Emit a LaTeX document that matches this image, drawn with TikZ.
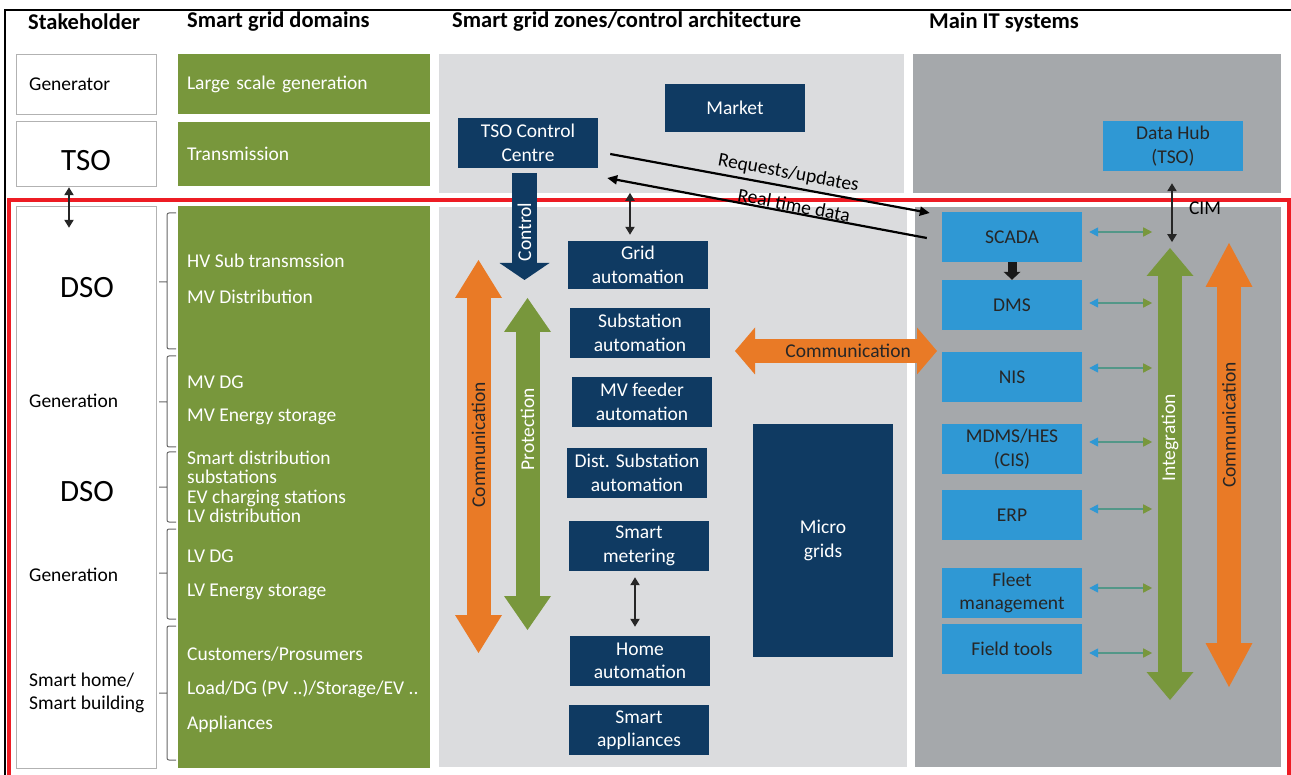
\documentclass[tikz,border=0pt]{standalone}
\usepackage{fontspec}
\setmainfont{Carlito}
\usetikzlibrary{arrows.meta, positioning, calc}
\definecolor{sgblue}{HTML}{0F3A62}
\definecolor{itblue}{HTML}{2F98D4}
\definecolor{dgreen}{HTML}{78973C}
\definecolor{sgorange}{HTML}{E97A26}
\definecolor{zonegray}{HTML}{DBDCDE}
\definecolor{itgray}{HTML}{A5A8AB}
\definecolor{framered}{HTML}{ED1C24}

\begin{document}
\begin{tikzpicture}[
  x=1pt, y=-1pt,
  font=\fontsize{19.5}{23.5}\selectfont,
  colhead/.style={font=\fontsize{22.5}{26}\selectfont\bfseries, anchor=west, inner sep=0pt},
  stake/.style={draw=black!30, fill=white, minimum width=140pt},
  stakelbl/.style={anchor=west, align=left, inner sep=0pt},
  bigname/.style={font=\fontsize{31}{36}\selectfont},
  dombox/.style={fill=dgreen, text=white, text width=234pt, inner xsep=9pt, align=left},
  domlbl/.style={anchor=west, text=white, align=left, inner sep=0pt},
  zonebox/.style={fill=sgblue, text=white, minimum width=140pt, minimum height=50pt,
                  align=center, inner sep=1pt},
  itbox/.style={fill=itblue, text=black!85, minimum width=140pt, minimum height=50pt,
                align=center, inner sep=1pt},
  fatarr/.style={line width=24pt,
                 {Triangle[length=#1, width=47pt, line width=0pt]}-{Triangle[length=#1, width=47pt, line width=0pt]}},
  dbl/.style={line width=2pt, black!85,
              {Triangle[length=8pt, width=9pt]}-{Triangle[length=8pt, width=9pt]}},
  itlink/.style={line width=1.6pt, itblue!50!dgreen,
                 {Triangle[length=9pt, width=9pt, color=itblue]}-{Triangle[length=9pt, width=9pt, color=dgreen]}},
  msgline/.style={line width=2.2pt, black}
]
  \useasboundingbox (0,0) rectangle (1291,775);

  % background panels
  \fill[zonegray] (439,54) rectangle (904,193);
  \fill[itgray] (913,54) rectangle (1281,193);
  \fill[zonegray] (439,207) rectangle (907,767);
  \fill[itgray] (915,207) rectangle (1281,767);
  \draw[line width=2.5pt] (5,10) rectangle (1320,800);
  \draw[framered, line width=4pt] (8.5,200.5) rectangle (1288.5,800);

  % column headings
  \node[colhead] (h1) at (28,22) {Stakeholder};
  \node[colhead] (h2) at (187,22) {Smart grid domains};
  \node[colhead] (h3) at (452,22) {Smart grid zones/control architecture};
  \node[colhead] (h4) at (929,22) {Main IT systems};

  % stakeholders
  \node[stake, minimum height=60pt] (gen) at (86,84) {};
  \node[stakelbl] (gentxt) at (29,84) {Generator};
  \node[stake, minimum height=65pt] (tso) at (86,153.5) {};
  \node[bigname] (tsotxt) at (86,161) {TSO};
  \node[stake, minimum height=562pt] (dsobox) at (86,487) {};
  \node[bigname] (dso1) at (87,288) {DSO};
  \node[stakelbl] (gen1) at (29,401) {Generation};
  \node[bigname] (dso2) at (87,492) {DSO};
  \node[stakelbl] (gen2) at (29,575) {Generation};
  \node[stakelbl] (homeb) at (29,693) {Smart home/\\Smart building};

  % domains
  \node[dombox, minimum height=60pt] (lsg) at (304,84) {Large scale generation};
  \node[dombox, minimum height=64pt] (trans) at (304,154) {Transmission};
  \node[fill=dgreen, minimum width=252pt, minimum height=562pt] (dist) at (304,487) {};
  \foreach \y/\t [count=\i] in {261/HV Sub transmssion, 297/MV Distribution, 382/MV DG,
      417/MV Energy storage, 556/LV DG, 592/LV Energy storage, 654/{Customers/Prosumers},
      689/{Load/DG (PV ..)/Storage/EV ..}, 724/Appliances}
    \node[domlbl] (dom\i) at (187,\y) {\t};
  \node[domlbl, font=\fontsize{19.5}{19.5}\selectfont] (domlv) at (187,487)
    {Smart distribution\\substations\\EV charging stations\\LV distribution};

  % braces
  \foreach \t/\m/\b in {213/282/349, 356/402/447, 452/487/522, 529/573/619, 626/693/760}
    \draw[black!60, line width=1pt, rounded corners=2pt]
      (176,\t) -- (167,\t) -- (167,\b) -- (176,\b) (167,\m) -- (159,\m);

  % zones
  \node[zonebox, minimum height=48pt] (market) at (735,108) {Market};
  \node[zonebox] (tsocc) at (528,143) {TSO Control\\Centre};
  \node[zonebox, minimum height=48pt] (gridauto) at (638,265) {Grid\\automation};
  \node[zonebox] (subauto) at (640,333) {Substation\\automation};
  \node[zonebox] (mvfeed) at (642,402) {MV feeder\\automation};
  \node[zonebox] (distsub) at (637,473) {Dist. Substation\\automation};
  \node[zonebox] (meter) at (639,546) {Smart\\metering};
  \node[zonebox] (homeauto) at (640,661) {Home\\automation};
  \node[zonebox] (smartapp) at (639,730) {Smart\\appliances};
  \node[zonebox, minimum height=233pt] (micro) at (823,540.5) {Micro\\grids};

  % IT systems
  \node[itbox] (datahub) at (1173,146) {Data Hub\\(TSO)};
  \node[itbox] (scada) at (1012,237) {SCADA};
  \node[itbox] (dms) at (1012,305) {DMS};
  \node[itbox] (nis) at (1012,377) {NIS};
  \node[itbox] (mdms) at (1012,449) {MDMS/HES\\(CIS)};
  \node[itbox] (erp) at (1012,515) {ERP};
  \node[itbox] (fleet) at (1012,593) {Fleet\\management};
  \node[itbox] (field) at (1012,649) {Field tools};

  % big arrows
  \coordinate (ctrltop) at (524.5,173);
  \coordinate (ctrlend) at (524.5,280);
  \draw[sgblue, line width=25pt, -{Triangle[length=17pt, width=50pt, line width=0pt]}]
    (ctrltop) -- (ctrlend) node[pos=.55, rotate=90, text=white] (ctrltxt) {Control};
  \coordinate (commtop) at (478.5,260);
  \coordinate (commbot) at (478.5,653);
  \draw[fatarr=38pt, sgorange] (commtop) -- (commbot)
    node[pos=.47, rotate=90, text=black!85] (commtxt) {Communication};
  \coordinate (protop) at (527.5,298);
  \coordinate (probot) at (527.5,630);
  \draw[fatarr=34pt, dgreen] (protop) -- (probot)
    node[pos=.395, rotate=90, text=white] (protxt) {Protection};
  \coordinate (hcl) at (735,351);
  \coordinate (hcr) at (937,351);
  \draw[fatarr=20pt, sgorange] (hcl) -- (hcr)
    node[pos=.56, text=black!85] (hcomm) {Communication};
  \coordinate (inttop) at (1170,248);
  \coordinate (intbot) at (1170,700);
  \draw[fatarr=28pt, dgreen] (inttop) -- (intbot)
    node[pos=.42, rotate=90, text=white] (inttxt) {Integration};
  \coordinate (rcomtop) at (1229,243);
  \coordinate (rcombot) at (1229,687);
  \draw[fatarr=44pt, sgorange] (rcomtop) -- (rcombot)
    node[pos=.41, rotate=90, text=black!85] (rcomtxt) {Communication};

  % small connectors
  \draw[dbl] ([shift={(-17,1)}]tso.south) -- ([shift={(-17,22)}]dsobox.north);
  \draw[dbl] ([shift={(-8,-48)}]gridauto.north) -- ([shift={(-8,-6)}]gridauto.north);
  \draw[dbl] ([shift={(-4,6)}]meter.south) -- ([shift={(-5,-9)}]homeauto.north);
  \draw[dbl] ([shift={(-1,12)}]datahub.south) -- ([shift={(-1,71)}]datahub.south);
  \node (cim) at (1205,208) {CIM};
  \draw[line width=9pt, black!90, -{Triangle[length=8pt, width=17pt, line width=0pt]}]
    (scada.south) -- (dms.north);
  \foreach \b/\d in {scada/-5, dms/-2, nis/-9, mdms/-7, erp/-6, fleet/-5, field/4}
    \draw[itlink] ([shift={(7,\d)}]\b.east) -- ([shift={(70,\d)}]\b.east);

  % TSO <-> SCADA
  \draw[msgline, -{Triangle[length=10pt, width=9pt]}]
    ([shift={(12,11)}]tsocc.east) -- ([shift={(-12,-24)}]scada.west)
    node[pos=.55, sloped, above, inner sep=4pt] (req) {Requests/updates};
  \draw[msgline, {Triangle[length=10pt, width=9pt]}-]
    ([shift={(9,35)}]tsocc.east) -- ([shift={(-15,1)}]scada.west)
    node[pos=.58, sloped, above, inner sep=0pt] (rtd) {Real time data};
\end{tikzpicture}
\end{document}
